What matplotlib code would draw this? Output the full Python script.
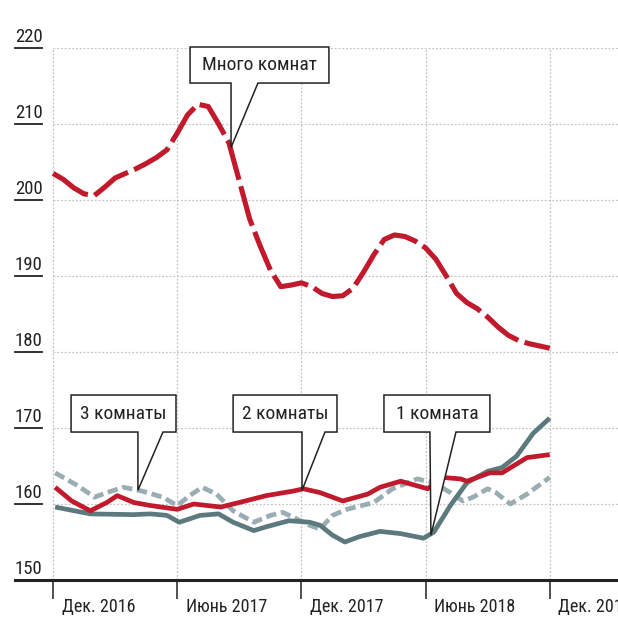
import matplotlib
matplotlib.use("Agg")
import matplotlib.pyplot as plt
from matplotlib import font_manager
from matplotlib.patches import Polygon

# pick a narrow font if there is one
names = set(f.name for f in font_manager.fontManager.ttflist)
font = "DejaVu Sans"
for cand in ["Liberation Sans Narrow", "DejaVu Sans Condensed", "Roboto Condensed", "Roboto"]:
    if cand in names:
        font = cand
        break
plt.rcParams["font.family"] = [font, "DejaVu Sans"]

# months since Dec 2016
many_m = [i * 0.5 for i in range(49)]
many_v = [203.5, 202.7, 201.6, 200.8, 200.6, 201.7, 202.9, 203.5, 204.1, 204.8,
          205.6, 206.6, 208.8, 211.2, 212.6, 212.3, 210.0, 207.5, 202.5, 197.5,
          194.0, 190.8, 188.6, 188.8, 189.1, 188.6, 187.7, 187.3, 187.4, 188.4,
          190.5, 192.8, 194.8, 195.4, 195.2, 194.6, 193.7, 192.2, 190.0, 187.7,
          186.5, 185.7, 184.6, 183.3, 182.2, 181.5, 181.1, 180.8, 180.5]

one_m = [0.1, 1.8, 3.9, 4.7, 5.5, 6.1, 7.1, 8.0, 8.7, 9.7, 10.3, 11.4, 12.4, 12.9,
         13.5, 14.1, 14.8, 15.8, 16.8, 17.9, 18.4, 19.2, 20.0, 21.0, 21.7, 22.4, 23.2, 24.0]
one_v = [159.6, 158.7, 158.6, 158.7, 158.5, 157.6, 158.5, 158.7, 157.6, 156.5, 157.0,
         157.8, 157.6, 157.2, 155.9, 155.0, 155.7, 156.4, 156.1, 155.5, 156.3, 159.8,
         162.8, 164.3, 164.8, 166.3, 169.3, 171.3]

two_m = [0.1, 0.9, 1.8, 2.6, 3.1, 3.9, 4.7, 6.0, 6.8, 8.1, 9.0, 10.3, 11.6, 12.1, 12.9,
         14.0, 15.2, 15.8, 16.8, 18.1, 18.8, 19.7, 20.0, 21.1, 21.7, 22.9, 24.0]
two_v = [162.2, 160.4, 159.1, 160.2, 161.1, 160.2, 159.8, 159.3, 160.0, 159.6, 160.2,
         161.1, 161.7, 162.0, 161.5, 160.4, 161.3, 162.2, 163.0, 162.0, 163.5, 163.3,
         163.0, 164.1, 164.1, 166.1, 166.5]

three_m = [0.1, 1.2, 2.0, 2.6, 3.4, 4.3, 5.3, 6.0, 6.6, 7.2, 7.9, 8.7, 9.7, 10.5, 11.1,
           11.8, 12.4, 12.9, 13.5, 14.2, 15.5, 16.4, 17.6, 18.4, 19.2, 19.8, 20.3, 21.0,
           21.4, 22.1, 22.9, 24.0]
three_v = [164.1, 162.4, 160.9, 161.5, 162.2, 161.7, 160.9, 159.8, 161.1, 162.2, 161.3,
           159.1, 157.6, 158.5, 158.9, 158.0, 157.2, 156.7, 158.5, 159.3, 160.2, 162.0,
           163.3, 162.8, 161.5, 160.4, 160.9, 162.0, 161.5, 160.0, 161.3, 163.5]

tick_pos = [0, 6, 12, 18, 24]
tick_labels = ["Дек. 2016", "Июнь 2017", "Дек. 2017", "Июнь 2018", "Дек. 2018"]
y_ticks = [150, 160, 170, 180, 190, 200, 210, 220]

red = "#c01a2c"
teal = "#5c7a7e"
grey = "#9aadb3"

fig = plt.figure(figsize=(6.18, 6.21), dpi=100)
ax = fig.add_axes([15 / 618, 41 / 621, 603 / 618, 532 / 621])
ax.set_xlim(-1.84, 27.3)
ax.set_ylim(150, 220)

for s in ["top", "right", "left"]:
    ax.spines[s].set_visible(False)
ax.spines["bottom"].set_linewidth(2.2)
ax.spines["bottom"].set_color("#222222")

ax.set_yticks([])
ax.set_xticks(tick_pos)
ax.set_xticklabels([])
ax.tick_params(axis="x", direction="out", length=14, width=1.1, color="#222222")

# grid
for y in y_ticks[1:]:
    ax.plot([0, 27.3], [y, y], color="#c4c4c4", lw=0.9, ls=(0, (1.5, 1.5)), zorder=1)
for x in tick_pos:
    ax.plot([x, x], [150, 220], color="#c4c4c4", lw=0.9, ls=(0, (1.5, 1.5)), zorder=1)

ytr = ax.get_yaxis_transform()
for y in y_ticks:
    ax.plot([0, 0.045], [y, y], color="#222222", lw=1.3, transform=ytr, clip_on=False)
    ax.text(0.0, y + 0.85, str(y), transform=ytr, fontsize=13.5, color="#222222",
            ha="left", va="baseline")

xtr = ax.get_xaxis_transform()
for x, lab in zip(tick_pos, tick_labels):
    ax.text(x + 0.42, -0.051, lab, transform=xtr, fontsize=13, color="#222222",
            ha="left", va="center", clip_on=False)

# lines
ax.plot(three_m, three_v, color=grey, lw=3.4, ls=(0, (2.2, 1.0)), zorder=3)
ax.plot(one_m, one_v, color=teal, lw=3.4, solid_capstyle="butt", zorder=4)
ax.plot(two_m, two_v, color=red, lw=3.4, solid_capstyle="butt", zorder=5)
ax.plot(many_m, many_v, color=red, lw=3.7, ls=(0, (8, 1.3)), zorder=5)


def callout(text, x0, x1, y0, y1, tl, tr, tip):
    pts = [(x0, y1), (x1, y1), (x1, y0), (tr, y0), tip, (tl, y0), (x0, y0)]
    ax.add_patch(Polygon(pts, closed=True, facecolor="white", edgecolor="#222222",
                         lw=1.1, zorder=10, clip_on=False))
    ax.text((x0 + x1) / 2, (y0 + y1) / 2, text, fontsize=14, color="#222222",
            ha="center", va="center", zorder=11)


callout("Много комнат", 6.62, 13.33, 215.39, 220.13, 8.6, 9.9, (8.6, 206.9))
callout("3 комнаты", 0.87, 5.94, 169.47, 174.34, 4.1, 5.31, (4.1, 161.8))
callout("2 комнаты", 8.70, 13.72, 169.47, 174.34, 12.03, 13.14, (12.03, 161.8))
callout("1 комната", 15.99, 21.11, 169.47, 174.34, 18.21, 19.47, (18.26, 155.9))

fig.savefig("out.png", dpi=100)
